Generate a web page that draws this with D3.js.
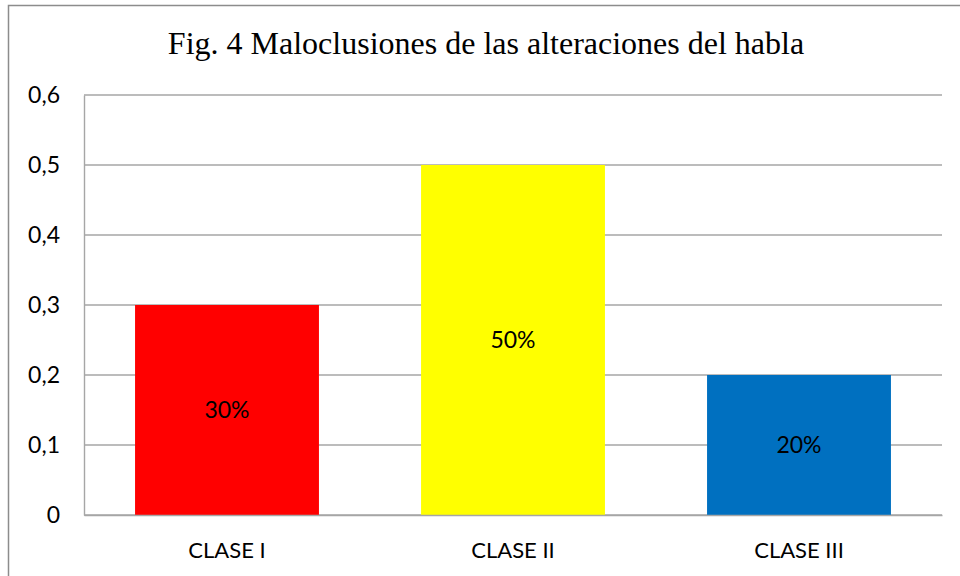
<!DOCTYPE html>
<html>
<head>
<meta charset="utf-8">
<script src="https://cdn.jsdelivr.net/npm/d3@7"></script>
<style>
  body { margin: 0; background: #fff; }
  svg { display: block; }
</style>
</head>
<body>
<div id="chart"></div>
<script>
var categories = ["CLASE I", "CLASE II", "CLASE III"];
var values = [0.3, 0.5, 0.2];
var barLabels = ["30%", "50%", "20%"];
var colors = ["#ff0000", "#ffff00", "#0070c0"];
var yTicks = [0, 0.1, 0.2, 0.3, 0.4, 0.5, 0.6];
var title = "Fig. 4 Maloclusiones de las alteraciones del habla";

var width = 960
var height = 576
var margin = {top: 95, right: 18, bottom: 61, left: 84}

var svg = d3.select("#chart").append("svg")
    .attr("width", width)
    .attr("height", height)

// outer chart frame (only top and left edges show)
svg.append("path")
    .attr("d", "M8.5,576 L8.5,5.5 L960,5.5")
    .attr("fill", "none")
    .attr("stroke", "#8c8c8c")
    .attr("stroke-width", 1.5)

var x = d3.scaleBand()
    .domain(categories)
    .range([margin.left, width - margin.right])
    .paddingInner(0.357)
    .paddingOuter(0.357 / 2);

var y = d3.scaleLinear()
    .domain([0, 0.6])
    .range([height - margin.bottom, margin.top]);

// gridlines
svg.append("g")
    .selectAll("line")
    .data(yTicks)
    .join("line")
    .attr("x1", margin.left)
    .attr("x2", width - margin.right)
    .attr("y1", d => y(d))
    .attr("y2", d => y(d))
    .attr("stroke", "#a6a6a6")
    .attr("stroke-width", 1.4)

// y axis
var yAxis = svg.append("g")
    .attr("transform", "translate(" + margin.left + ",0)")
    .call(d3.axisLeft(y).tickValues(yTicks).tickSize(0).tickPadding(24)
        .tickFormat(d => d === 0 ? "0" : d3.format(".1f")(d).replace(".", ",")));
yAxis.select(".domain").attr("stroke", "#a6a6a6").attr("stroke-width", 1.4)
yAxis.selectAll("text")
    .attr("font-family", "Lato, 'Open Sans', sans-serif")
    .attr("font-size", 23)
    .attr("fill", "#000")

// bars
svg.append("g")
    .selectAll("rect")
    .data(values)
    .join("rect")
    .attr("x", (d, i) => x(categories[i]))
    .attr("y", d => y(d))
    .attr("width", x.bandwidth())
    .attr("height", d => y(0) - y(d))
    .attr("fill", (d, i) => colors[i])

// x axis
var xAxis = svg.append("g")
    .attr("transform", "translate(0," + y(0) + ")")
    .call(d3.axisBottom(x).tickSize(0).tickPadding(27));
xAxis.select(".domain").attr("stroke", "#a6a6a6").attr("stroke-width", 1.4)
xAxis.selectAll("text")
    .attr("font-family", "Lato, 'Open Sans', sans-serif")
    .attr("font-size", 22)
    .attr("fill", "#000")

// value labels
svg.append("g")
    .selectAll("text")
    .data(values)
    .join("text")
    .attr("x", (d, i) => x(categories[i]) + x.bandwidth() / 2)
    .attr("y", d => (y(d) + y(0)) / 2)
    .attr("dy", "0.36em")
    .attr("text-anchor", "middle")
    .attr("font-family", "Lato, 'Open Sans', sans-serif")
    .attr("font-size", 23)
    .attr("fill", "#000")
    .text((d, i) => barLabels[i])

svg.append("text")
    .attr("x", 486)
    .attr("y", 54)
    .attr("text-anchor", "middle")
    .attr("font-family", "'Liberation Serif', 'Times New Roman', serif")
    .attr("font-size", 32)
    .attr("fill", "#000")
    .text(title)
</script>
</body>
</html>
